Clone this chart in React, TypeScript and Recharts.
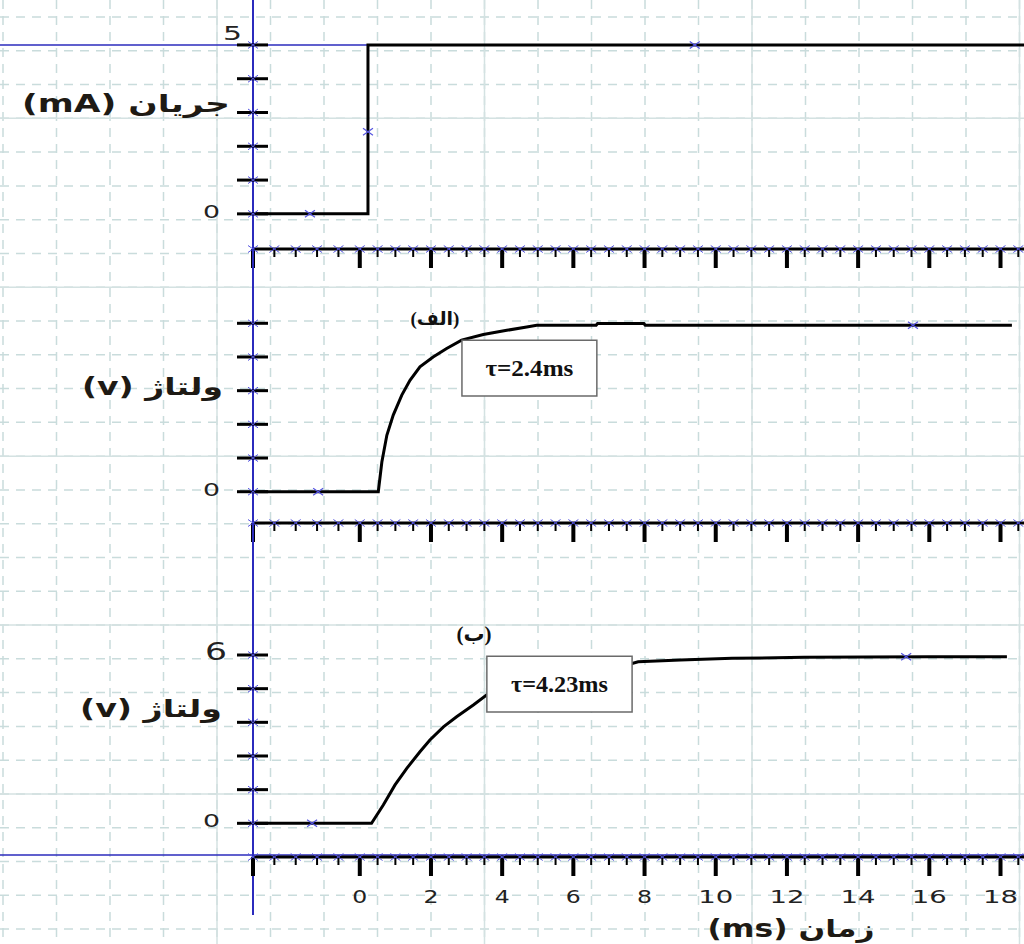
import React from 'react'
import {
  ComposedChart,
  Line,
  Scatter,
  XAxis,
  YAxis,
  CartesianGrid,
  ReferenceLine,
  ReferenceArea,
  ReferenceDot,
} from 'recharts'

// time axis (ms), shared by the three traces
const T_MIN = -3
const T_MAX = 18.66
const T_LEFT = -10.2 // left edge of the screen, the cursor lines start here

const X_MAJOR = [-3, 0, 2, 4, 6, 8, 10, 12, 14, 16, 18]
const X_MAJOR_LABELS = ['', '0', '2', '4', '6', '8', '10', '12', '14', '16', '18']
const X_MINOR = [
  -2.4, -1.8, -1.2, -0.6, 0.5, 1, 1.5, 2.5, 3, 3.5, 4.5, 5, 5.5, 6.5, 7, 7.5, 8.5, 9, 9.5,
  10.5, 11, 11.5, 12.5, 13, 13.5, 14.5, 15, 15.5, 16.5, 17, 17.5, 18.5,
]

// trace 1: current step (mA)
const I_TIME = [-3, 0.23, 0.23, 18.66]
const I_VALUE = [0, 0, 5, 5]
const I_MARK_TIME = [-1.4, 0.23, 9.41]
const I_MARK_VALUE = [0, 2.43, 5]
const I_TICKS = [0, 1, 2, 3, 4, 5]
const I_TICK_LABELS = ['0', '', '', '', '', '5']

// trace 2 (الف): voltage, tau = 2.4 ms
const VA_TIME = [-3, 0.52, 0.62, 0.76, 0.94, 1.18, 1.41, 1.69, 2.06, 2.44, 2.86, 3.47, 4.13, 4.69, 4.97, 6.64, 6.68, 7.98, 8.02, 18.32]
const VA_VALUE = [0, 0, 1.06, 2.01, 2.73, 3.44, 3.97, 4.45, 4.8, 5.1, 5.4, 5.6, 5.75, 5.87, 5.93, 5.93, 5.99, 5.99, 5.93, 5.93]
const VA_MARK_TIME = [-1.17, 15.54]
const VA_MARK_VALUE = [0, 5.93]
const V_TICKS = [0, 1.2, 2.4, 3.6, 4.8, 6]
const VA_TICK_LABELS = ['0', '', '', '', '', '']

// trace 3 (ب): voltage, tau = 4.23 ms
const VB_TIME = [-3, 0.33, 0.66, 0.99, 1.32, 1.69, 1.97, 2.35, 2.72, 3.19, 3.56, 4.2, 5.0, 6.0, 7.0, 7.65, 7.82, 9.01, 10.46, 12.48, 15.99, 18.18]
const VB_VALUE = [0, 0, 0.65, 1.37, 1.96, 2.55, 2.97, 3.44, 3.8, 4.22, 4.57, 4.95, 5.25, 5.48, 5.62, 5.7, 5.76, 5.82, 5.88, 5.92, 5.94, 5.94]
const VB_MARK_TIME = [-1.34, 15.35]
const VB_MARK_VALUE = [0, 5.94]
const VB_TICK_LABELS = ['0', '', '', '', '', '6']

// annotations: boxes [t1, t2, v1, v2], tags [t, v]
const TAU_A_BOX = [2.87, 6.66, 3.41, 5.4]
const TAU_B_BOX = [3.57, 7.65, 3.97, 5.96]
const TAG_A_POS = [2.11, 6.19]
const TAG_B_POS = [3.21, 6.75]

// screen graticule: divisions, every 5th one drawn solid
const GRID_COLS = [0, 1, 2, 3, 4, 5, 6, 7, 8, 9, 10, 11, 12, 13, 14, 15, 16, 17, 18, 19]
const GRID_COLS_MAJOR = [4, 9, 14, 19]
const GRID_ROWS = [0, 1, 2, 3, 4, 5, 6, 7, 8, 9, 10, 11, 12, 13, 14, 15, 16, 17, 18, 19, 20, 21, 22, 23, 24, 25, 26, 27]
const GRID_ROWS_MAJOR = [3, 8, 13, 18, 23]
const GRID_X0 = 3
const GRID_DX = 53.5
const GRID_Y0 = 17
const GRID_DY = 33.78

const toPoints = (ts: number[], vs: number[]) => ts.map((t, i) => ({ t, v: vs[i] }))

const AXIS_BLUE = '#2b2bbd'
const MARK_BLUE = '#5555e0'
const TEXT = '#1e1a14'

const xMark = (x: number, y: number) =>
  `M${x - 5},${y - 3.5}L${x + 5},${y + 3.5}M${x - 5},${y + 3.5}L${x + 5},${y - 3.5}`

function XTick(props: any) {
  const { x, y, payload, showLabels, extendAxis } = props
  const v = payload.value
  const mi = X_MAJOR.indexOf(v)
  const major = mi >= 0
  const label = showLabels && major ? X_MAJOR_LABELS[mi] : ''
  return (
    <g>
      {extendAxis && v === T_MIN && (
        <line x1={x} y1={y} x2={x} y2={y + 58} stroke={AXIS_BLUE} strokeWidth={2} />
      )}
      <rect x={major ? x - 2 : x - 1} y={y} width={major ? 4 : 2} height={major ? 19 : 8} fill="#000" />
      <path d={xMark(x, y)} stroke={MARK_BLUE} strokeWidth={1} fill="none" />
      {label && (
        <text
          x={x}
          y={y + 46}
          textAnchor="middle"
          fontFamily="'DejaVu Sans', sans-serif"
          fontSize={18}
          fill="#222"
          textLength={label.length > 1 ? 35 : 15}
          lengthAdjust="spacingAndGlyphs"
        >
          {label}
        </text>
      )}
    </g>
  )
}

const Y_LABEL_STYLE: Record<string, { dx: number; dy: number; w: number; size: number }> = {
  '0': { dx: -33, dy: 4, w: 17, size: 18 },
  '5': { dx: -11, dy: -5, w: 19, size: 20 },
  '6': { dx: -26, dy: 5, w: 22, size: 24 },
}

function YTick(props: any) {
  const { x, y, payload, ticks, labels } = props
  const label = labels[ticks.indexOf(payload.value)]
  const st = Y_LABEL_STYLE[label]
  return (
    <g>
      <rect x={x - 16} y={y - 1.5} width={31} height={3} fill="#000" />
      <path d={xMark(x, y)} stroke={MARK_BLUE} strokeWidth={1} fill="none" />
      {label && st && (
        <text
          x={x + st.dx}
          y={y + st.dy}
          textAnchor="end"
          fontFamily="'DejaVu Sans', sans-serif"
          fontSize={st.size}
          fill="#222"
          textLength={st.w}
          lengthAdjust="spacingAndGlyphs"
        >
          {label}
        </text>
      )}
    </g>
  )
}

const titleStyle = {
  fontFamily: "'DejaVu Sans', sans-serif",
  fontWeight: 700,
  fontSize: 24,
  fill: TEXT,
}

function Panel(props: any) {
  const {
    height, xAxisHeight, yDomain, yTicks, yLabels, line, marks,
    title, titleRight, titleCenter, titleWidth, showXLabels, extendAxis, children,
  } = props
  return (
    <ComposedChart width={1024} height={height} margin={{ top: 0, right: 0, bottom: 0, left: 0 }}>
      <XAxis
        dataKey="t"
        type="number"
        domain={[T_MIN, T_MAX]}
        allowDataOverflow
        ticks={[...X_MAJOR, ...X_MINOR]}
        interval={0}
        height={xAxisHeight}
        tickSize={0}
        tickMargin={0}
        tickLine={false}
        axisLine={{ stroke: '#000', strokeWidth: 3 }}
        tick={<XTick showLabels={showXLabels} extendAxis={extendAxis} />}
        label={
          showXLabels
            ? (p: any) => (
                <text
                  x={p.viewBox.x + 538}
                  y={p.viewBox.y + 80}
                  textAnchor="middle"
                  textLength={167}
                  lengthAdjust="spacingAndGlyphs"
                  {...titleStyle}
                >
                  {'(ms) زمان'}
                </text>
              )
            : undefined
        }
      />
      <YAxis
        type="number"
        domain={yDomain}
        allowDataOverflow
        ticks={yTicks}
        interval={0}
        width={253}
        tickSize={0}
        tickMargin={0}
        tickLine={false}
        axisLine={{ stroke: AXIS_BLUE, strokeWidth: 2 }}
        tick={<YTick ticks={yTicks} labels={yLabels} />}
        label={(p: any) => (
          <text
            x={titleRight}
            y={p.viewBox.y + titleCenter + 7.5}
            textAnchor="end"
            textLength={titleWidth}
            lengthAdjust="spacingAndGlyphs"
            {...titleStyle}
          >
            {title}
          </text>
        )}
      />
      {children}
      <Line
        data={line}
        dataKey="v"
        type="linear"
        stroke="#000"
        strokeWidth={3}
        dot={false}
        activeDot={false}
        isAnimationActive={false}
      />
      <Scatter
        data={marks}
        dataKey="v"
        isAnimationActive={false}
        shape={(p: any) => <path d={xMark(p.cx, p.cy)} stroke={MARK_BLUE} strokeWidth={1.2} fill="none" />}
      />
    </ComposedChart>
  )
}

function tauBox(box: number[], text: string, width: number) {
  return (
    <ReferenceArea
      x1={box[0]}
      x2={box[1]}
      y1={box[2]}
      y2={box[3]}
      fill="#fff"
      fillOpacity={1}
      stroke="#6a6a6a"
      strokeWidth={1.5}
      ifOverflow="visible"
      zIndex={1500}
      label={(p: any) => (
        <text
          x={p.viewBox.x + p.viewBox.width / 2}
          y={p.viewBox.y + p.viewBox.height / 2 + 8}
          textAnchor="middle"
          fontFamily="'Liberation Serif', serif"
          fontWeight={700}
          fontSize={23}
          fill="#111"
          textLength={width}
          lengthAdjust="spacingAndGlyphs"
        >
          {text}
        </text>
      )}
    />
  )
}

function tag(pos: number[], text: string, size: number) {
  return (
    <ReferenceDot
      x={pos[0]}
      y={pos[1]}
      r={1}
      ifOverflow="visible"
      shape={(p: any) => (
        <text
          x={p.cx}
          y={p.cy + 7}
          textAnchor="middle"
          fontFamily="'Liberation Serif', 'DejaVu Sans', serif"
          fontWeight={700}
          fontSize={size}
          fill="#111"
        >
          {text}
        </text>
      )}
    />
  )
}

function Graticule() {
  const cols = GRID_COLS.map((c) => GRID_X0 + c * GRID_DX)
  const colsMajor = GRID_COLS_MAJOR.map((c) => GRID_X0 + c * GRID_DX)
  const rows = GRID_ROWS.map((r) => GRID_Y0 + r * GRID_DY)
  const rowsMajor = GRID_ROWS_MAJOR.map((r) => GRID_Y0 + r * GRID_DY)
  return (
    <ComposedChart width={1024} height={944} margin={{ top: 0, right: 0, bottom: 0, left: 0 }} data={[]}>
      <XAxis type="number" domain={[0, 1024]} hide />
      <YAxis type="number" domain={[0, 944]} hide />
      <CartesianGrid
        verticalPoints={cols}
        horizontalPoints={rows}
        stroke="#c9dcdc"
        strokeWidth={1.5}
        strokeDasharray="9 7"
      />
      <CartesianGrid verticalPoints={colsMajor} horizontalPoints={rowsMajor} stroke="#d4e2e2" strokeWidth={1.5} />
    </ComposedChart>
  )
}

export default function App() {
  const layer = (top: number): React.CSSProperties => ({ position: 'absolute', left: 0, top })
  return (
    <div style={{ position: 'absolute', left: 0, top: 0, width: 1024, height: 944, background: '#fff', overflow: 'hidden' }}>
      <div style={layer(0)}>
        <Graticule />
      </div>
      <div style={layer(0)}>
        <Panel
          height={274}
          xAxisHeight={25}
          yDomain={[-1.04, 6.33]}
          yTicks={I_TICKS}
          yLabels={I_TICK_LABELS}
          line={toPoints(I_TIME, I_VALUE)}
          marks={toPoints(I_MARK_TIME, I_MARK_VALUE)}
          title="(mA) جریان"
          titleRight={230}
          titleCenter={104}
          titleWidth={208}
        >
          <ReferenceLine
            segment={[{ x: T_LEFT, y: 5 }, { x: T_MAX, y: 5 }]}
            stroke={AXIS_BLUE}
            strokeWidth={1.5}
            ifOverflow="visible"
            zIndex={50}
          />
        </Panel>
      </div>
      <div style={layer(249)}>
        <Panel
          height={299}
          xAxisHeight={25}
          yDomain={[-1.115, 8.647]}
          yTicks={V_TICKS}
          yLabels={VA_TICK_LABELS}
          line={toPoints(VA_TIME, VA_VALUE)}
          marks={toPoints(VA_MARK_TIME, VA_MARK_VALUE)}
          title="(v) ولتاژ"
          titleRight={223}
          titleCenter={138}
          titleWidth={141}
        >
          {tauBox(TAU_A_BOX, 'τ=2.4ms', 88)}
          {tag(TAG_A_POS, '(الف)', 19)}
        </Panel>
      </div>
      <div style={layer(523)}>
        <Panel
          height={421}
          xAxisHeight={87}
          yDomain={[-1.201, 10.706]}
          yTicks={V_TICKS}
          yLabels={VB_TICK_LABELS}
          line={toPoints(VB_TIME, VB_VALUE)}
          marks={toPoints(VB_MARK_TIME, VB_MARK_VALUE)}
          title="(v) ولتاژ"
          titleRight={222}
          titleCenter={186}
          titleWidth={142}
          showXLabels
          extendAxis
        >
          <ReferenceLine
            segment={[{ x: T_LEFT, y: -1.13 }, { x: T_MAX, y: -1.13 }]}
            stroke={AXIS_BLUE}
            strokeWidth={1.5}
            ifOverflow="visible"
            zIndex={50}
          />
          {tauBox(TAU_B_BOX, 'τ=4.23ms', 97)}
          {tag(TAG_B_POS, '(ب)', 21)}
        </Panel>
      </div>
    </div>
  )
}
